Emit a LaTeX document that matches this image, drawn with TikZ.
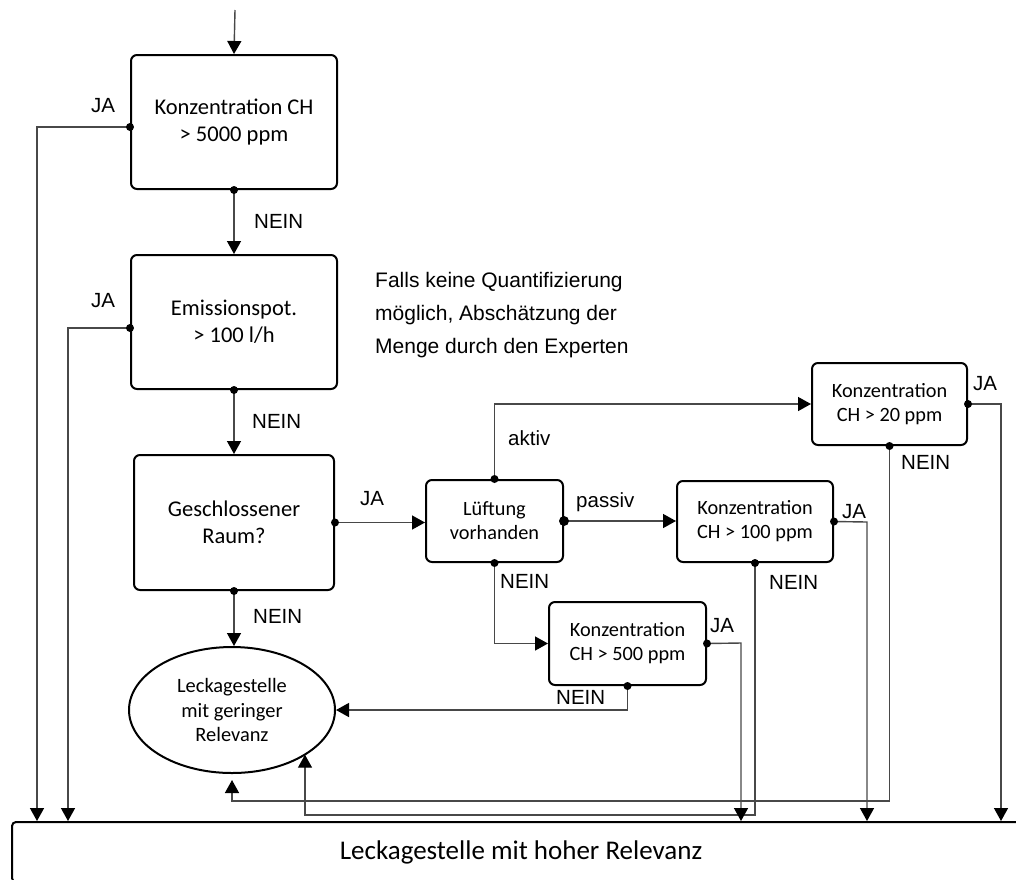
\documentclass[tikz,border=0pt]{standalone}
\usepackage{fontspec}
\setmainfont{Carlito}
\newfontfamily\labfont{Liberation Sans}
\usetikzlibrary{arrows.meta,shapes.geometric}
\definecolor{linegray}{HTML}{484848}
\begin{document}
\begin{tikzpicture}[x=1pt,y=-1pt,
  box/.style={draw=black,line width=2pt,rounded corners=6pt,align=center,inner sep=0pt,font=\fontsize{22.5}{27}\selectfont},
  sbox/.style={box,font=\fontsize{20.3}{24}\selectfont},
  conn/.style={draw=linegray,line width=1.4pt},
  arr/.style={conn,-{Triangle[width=14pt,length=13pt,color=black]}},
  lbl/.style={anchor=base west,inner sep=0pt,font=\labfont\fontsize{20.5}{24}\selectfont},
  dotr/.style={fill=black}
]
\useasboundingbox (0,0) rectangle (1016,879);

% nodes
\node[box,minimum width=206pt,minimum height=134pt] (b1) at (234,122) {Konzentration CH\\> 5000 ppm};
\node[box,minimum width=206pt,minimum height=134pt] (b2) at (234,322) {Emissionspot.\\> 100 l/h};
\node[box,minimum width=200pt,minimum height=135pt] (b3) at (234,522.5) {Geschlossener\\Raum?};
\node[sbox,minimum width=137pt,minimum height=82pt] (lu) at (494.5,521) {Lüftung\\vorhanden};
\node[sbox,minimum width=155pt,minimum height=82pt] (c20) at (889.5,404) {Konzentration\\CH > 20 ppm};
\node[sbox,minimum width=156pt,minimum height=81pt] (c100) at (755,521.5) {Konzentration\\CH > 100 ppm};
\node[sbox,minimum width=157pt,minimum height=83pt] (c500) at (627.5,643.5) {Konzentration\\CH > 500 ppm};
\node[ellipse,draw=black,line width=2pt,minimum width=206pt,minimum height=126pt,inner sep=0pt,align=center,font=\fontsize{20.4}{24.5}\selectfont] (ell) at (232,710) {Leckagestelle\\mit geringer\\Relevanz};
\node[draw=black,line width=2pt,rounded corners=4pt,minimum width=1018pt,minimum height=60pt,inner sep=0pt,font=\fontsize{27}{32}\selectfont] (bot) at (521,852) {Leckagestelle mit hoher Relevanz};

\node[anchor=north west,inner sep=0pt,align=left,font=\labfont\fontsize{21}{33}\selectfont] (note) at (375,272) {Falls keine Quantifizierung\\möglich, Abschätzung der\\Menge durch den Experten};

% coordinates
\coordinate (start) at (235,10);
\coordinate (j1) at (37,127);
\coordinate (j2) at (68,328);
\coordinate (j20) at (1001,404);
\coordinate (j100) at (867,522);
\coordinate (j500) at (741,643);
\coordinate (n20) at (232,801);
\coordinate (n100) at (305,815);

% connectors
\draw[arr] (start) -- (b1.north);
\draw[arr] (b1.south) -- (b2.north);
\draw[arr] (b2.south) -- (b3.north);
\draw[arr] ([yshift=-5pt]b1.west) -- (j1) -- (j1 |- bot.north);
\draw[arr] ([yshift=-6pt]b2.west) -- (j2) -- (j2 |- bot.north);
\draw[arr] (b3.south) -- (b3.south |- ell.north);
\draw[arr] (b3.east) -- (b3.east -| lu.west);
\draw[arr] (lu.north) -- (lu.north |- c20.west) -- (c20.west);
\draw[arr] (lu.east) -- (lu.east -| c100.west);
\draw[arr] (lu.south) |- (c500.west);
\draw[arr] (c20.east) -- (j20) -- (j20 |- bot.north);
\draw[arr] (c20.south) |- (n20) -- ([yshift=-6pt]ell.south);
\draw[arr] (c100.east) -- (j100) -- (j100 |- bot.north);
\draw[arr] (c100.south) |- (n100) -- (n100 |- ell.-31);
\draw[arr] (c500.east) -- (j500) -- (j500 |- bot.north);
\draw[arr] (c500.south) |- (ell.east);

% dots
\foreach \p in {b1.south,b2.south,b3.south,b3.east,lu.north,lu.south,c20.east,c20.south,c100.east,c100.south,c500.east,c500.south}
  \fill[dotr] (\p) circle (4);
\fill[dotr] ([yshift=-5pt]b1.west) circle (4);
\fill[dotr] ([yshift=-6pt]b2.west) circle (4);
\fill[dotr] (lu.east) circle (5);

% labels
\node[lbl] (l1) at (91,112) {JA};
\node[lbl] (l2) at (254,228) {NEIN};
\node[lbl] (l3) at (91,307) {JA};
\node[lbl] (l4) at (252,428) {NEIN};
\node[lbl] (l5) at (253,623) {NEIN};
\node[lbl] (l6) at (360,505) {JA};
\node[lbl] (l7) at (508,445) {aktiv};
\node[lbl] (l8) at (576,507) {passiv};
\node[lbl] (l9) at (500,588) {NEIN};
\node[lbl] (l10) at (973,390) {JA};
\node[lbl] (l11) at (901,469) {NEIN};
\node[lbl] (l12) at (842,518) {JA};
\node[lbl] (l13) at (769,589) {NEIN};
\node[lbl] (l14) at (710,632) {JA};
\node[lbl] (l15) at (556,704) {NEIN};
\end{tikzpicture}
\end{document}
